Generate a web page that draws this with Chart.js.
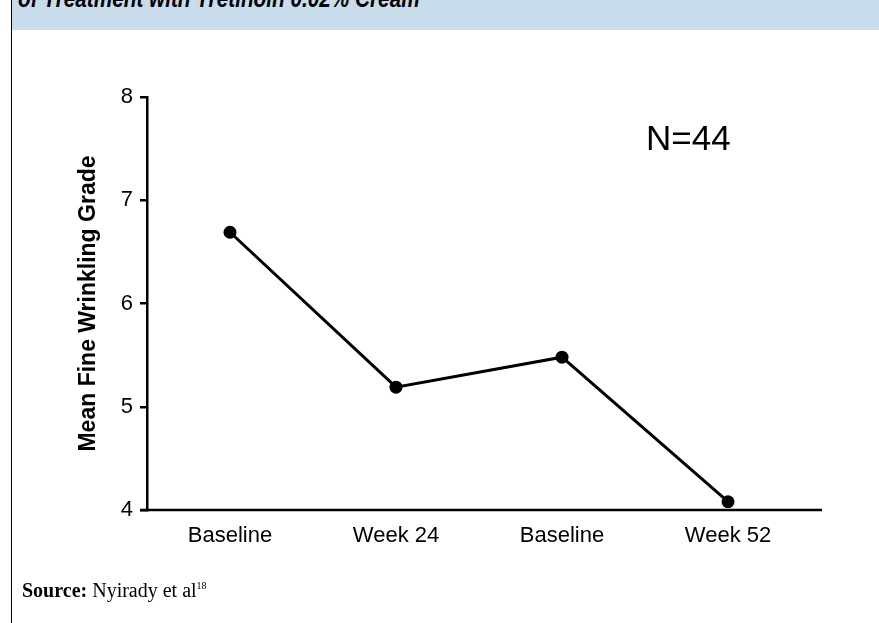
<!DOCTYPE html>
<html lang="en">
<head>
<meta charset="UTF-8">
<title>Mean Fine Wrinkling Grade</title>
<script src="https://cdn.jsdelivr.net/npm/chart.js"></script>
<style>
  html, body { margin: 0; padding: 0; background: #fff; }
  body { width: 879px; height: 623px; position: relative; overflow: hidden; }
  .borda { position: absolute; left: 11px; top: 0; width: 1px; height: 623px; background: #000; }
  .cabecalho { position: absolute; left: 12px; top: 0; width: 867px; height: 30px; background: #c9dceb; overflow: hidden; }
  .cabecalho p { position: absolute; left: 6px; top: -16px; margin: 0; font: italic bold 25px "Liberation Sans Narrow", "Liberation Sans", Arial, sans-serif; color: #000; white-space: nowrap; transform: scaleX(0.83); transform-origin: left top; }
  .grafico { position: absolute; left: 0; top: 0; }
  .n { position: absolute; left: 646px; top: 118px; font: 35px "Liberation Sans", Arial, sans-serif; color: #000; }
  .fonte { position: absolute; left: 22px; top: 579px; font: 20px "Liberation Serif", "Times New Roman", serif; color: #000; }
  .fonte sup { font-size: 10px; vertical-align: 8px; }
</style>
</head>
<body>
  <div class="borda"></div>
  <div class="cabecalho"><p>of Treatment with Tretinoin 0.02% Cream</p></div>
  <canvas id="myChart" class="grafico" width="879" height="623"></canvas>
  <div class="n">N=44</div>
  <div class="fonte"><b>Source:</b> Nyirady et al<sup>18</sup></div>

<script>
  // dados
  const categorias = ['Baseline', 'Week 24', 'Baseline', 'Week 52'];
  const valores = [6.69, 5.19, 5.48, 4.08];
  const yMin = 4;
  const yMax = 8;
  const tituloY = 'Mean Fine Wrinkling Grade';

  // linha do eixo x, um pouco mais longa que a área do gráfico
  const eixoX = {
    id: 'eixoX',
    afterDraw(chart) {
      const ctx = chart.ctx;
      const area = chart.chartArea;
      const y = chart.scales.y.getPixelForValue(yMin);
      ctx.save();
      ctx.strokeStyle = '#000';
      ctx.lineWidth = 2.5;
      ctx.beginPath();
      ctx.moveTo(area.left - 7, y);
      ctx.lineTo(area.right + 11, y);
      ctx.stroke();
      ctx.restore();
    }
  };

  const fonteEixo = { family: '"Liberation Sans", Arial, sans-serif', size: 22 };

  const config = {
    type: 'line',
    data: {
      labels: categorias,
      datasets: [{
        data: valores,
        borderColor: '#000',
        backgroundColor: '#000',
        borderWidth: 3,
        pointRadius: 6.5,
        pointBackgroundColor: '#000',
        pointBorderWidth: 0,
        tension: 0,
        clip: false
      }]
    },
    options: {
      responsive: false,
      animation: false,
      devicePixelRatio: 1,
      layout: { padding: { top: 97, right: 68, bottom: 0, left: 0 } },
      plugins: {
        legend: { display: false },
        tooltip: { enabled: false }
      },
      scales: {
        x: {
          type: 'category',
          offset: true,
          grid: { display: false, drawTicks: false },
          border: { display: false },
          ticks: {
            color: '#000',
            font: fonteEixo,
            padding: 13,
            maxRotation: 0
          },
          afterFit(scale) { scale.height = 113; }
        },
        y: {
          min: yMin,
          max: yMax,
          grid: {
            drawOnChartArea: false,
            drawTicks: true,
            tickLength: 7,
            color: '#000',
            lineWidth: 2.5
          },
          border: { display: true, color: '#000', width: 2.5 },
          ticks: {
            stepSize: 1,
            color: '#000',
            font: { family: '"Liberation Sans", Arial, sans-serif', size: 22 },
            padding: 7
          },
          title: {
            display: true,
            text: tituloY,
            color: '#000',
            font: { family: '"Liberation Sans", Arial, sans-serif', size: 23, weight: 'bold' },
            padding: { top: 75, bottom: 0 }
          },
          afterFit(scale) { scale.width = 147; }
        }
      }
    },
    plugins: [eixoX]
  };

  new Chart(document.getElementById('myChart'), config);
</script>
</body>
</html>
